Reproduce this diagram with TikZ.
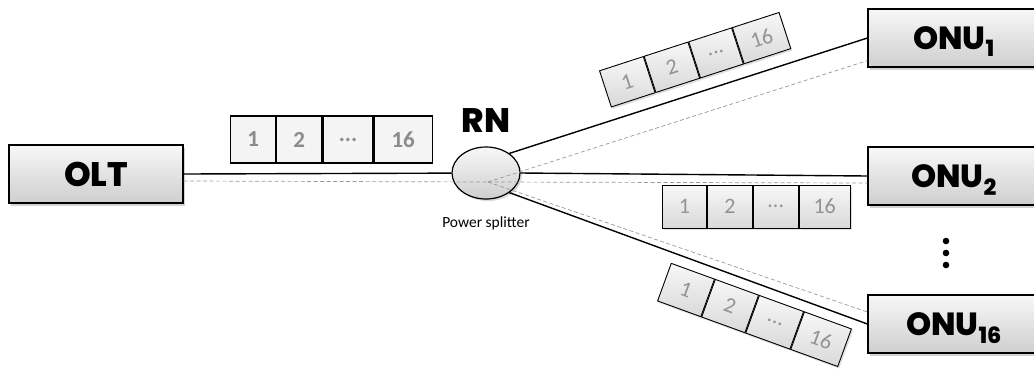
\documentclass[tikz,border=0pt]{standalone}
\usepackage{fontspec}
\setmainfont{Carlito}
\newfontfamily\titlefont{Poppins}[BoldFont={Poppins ExtraBold}]
\usetikzlibrary{shapes.geometric,shadows,positioning}

\tikzset{
  unit/.style={draw, line width=1.2pt, rectangle, minimum width=172pt, minimum height=58pt,
    top color=gray!6, bottom color=gray!38, text height=22pt, text depth=0pt,
    drop shadow={opacity=0.35, shadow xshift=2pt, shadow yshift=-3pt},
    font=\titlefont\bfseries\fontsize{32}{32}\selectfont},
  cell/.style={draw, line width=0.9pt, inner sep=0pt, minimum height=40pt, anchor=west,
    top color=gray!6, bottom color=gray!30, text=gray!85,
    drop shadow={opacity=0.25, shadow xshift=1.5pt, shadow yshift=-2pt},
    font=\fontsize{22}{22}\selectfont},
  flatcell/.style={draw, line width=1.2pt, inner sep=0pt, minimum height=47pt, anchor=west,
    fill=gray!9, text=gray!90, font=\bfseries\fontsize{23}{23}\selectfont},
  fiber/.style={line width=1.4pt},
  guide/.style={gray!80, line width=0.7pt, dash pattern=on 4pt off 2.5pt},
}

\begin{document}
\begin{tikzpicture}[x=1pt, y=-1pt]
  \useasboundingbox (0,0) rectangle (1034,368);

  % terminals
  \node[unit, minimum width=174pt, text height=24pt, font=\titlefont\bfseries\fontsize{34}{34}\selectfont] (olt) at (96,174) {OLT};
  \node[unit] (onu1) at (954,38) {ONU\textsubscript{1}};
  \node[unit] (onu2) at (954,176) {ONU\textsubscript{2}};
  \node[unit] (onu16) at (954,324) {ONU\textsubscript{16}};

  % remote node
  \node[ellipse, draw, line width=1.2pt, minimum width=68pt, minimum height=52pt, inner sep=0pt,
    top color=gray!6, bottom color=gray!38,
    drop shadow={opacity=0.3, shadow xshift=2pt, shadow yshift=-2pt}] (rn) at (486,173) {};
  \node[font=\titlefont\bfseries\fontsize{34}{34}\selectfont, above=10pt of rn] (rnlabel) {RN};
  \node[font=\fontsize{15.5}{15.5}\selectfont, below=17pt of rn, inner sep=0pt] (rntext) {Power splitter};
  \coordinate (hub) at (488,182);

  % fibres
  \draw[fiber] (olt.east) -- (rn);
  \draw[fiber] (rn.40) -- (onu1.west);
  \draw[fiber] (rn.east) -- (onu2.west);
  \draw[fiber] (rn.-40) -- (onu16.west);
  \draw[guide] ([yshift=-7pt]olt.east) -- (hub);
  \draw[guide] (hub) -- ([yshift=7pt]onu1.south west);
  \draw[guide] (hub) -- ([yshift=-7pt]onu2.west);
  \draw[guide] (hub) -- ([yshift=12pt]onu16.west);

  % downstream frame
  \node[flatcell, minimum width=45pt] (d1) at (230,139.5) {1};
  \node[flatcell, minimum width=45pt] (d2) at (d1.east) {2};
  \node[flatcell, minimum width=50pt] (d3) at (d2.east) {...};
  \node[flatcell, minimum width=58pt] (d4) at (d3.east) {16};

  % frames towards the ONUs
  \node[cell, rotate=18, minimum height=38pt, minimum width=46pt] (a1) at (605,89) {1};
  \node[cell, rotate=18, minimum height=38pt, minimum width=46pt] (a2) at (a1.east) {2};
  \node[cell, rotate=18, minimum height=38pt, minimum width=45pt] (a3) at (a2.east) {...};
  \node[cell, rotate=18, minimum height=38pt, minimum width=49pt] (a4) at (a3.east) {16};

  \node[cell, minimum height=43pt, minimum width=44pt] (b1) at (662,206.5) {1};
  \node[cell, minimum height=43pt, minimum width=45pt] (b2) at (b1.east) {2};
  \node[cell, minimum height=43pt, minimum width=45pt] (b3) at (b2.east) {...};
  \node[cell, minimum height=43pt, minimum width=51pt] (b4) at (b3.east) {16};

  \node[cell, rotate=-20, minimum width=46pt] (c1) at (664,282) {1};
  \node[cell, rotate=-20, minimum width=46pt] (c2) at (c1.east) {2};
  \node[cell, rotate=-20, minimum width=47pt] (c3) at (c2.east) {...};
  \node[cell, rotate=-20, minimum width=50pt] (c4) at (c3.east) {16};

  % more ONUs
  \foreach \y in {241,253,265}
    \fill (946,\y) circle (3.3pt);
\end{tikzpicture}
\end{document}
